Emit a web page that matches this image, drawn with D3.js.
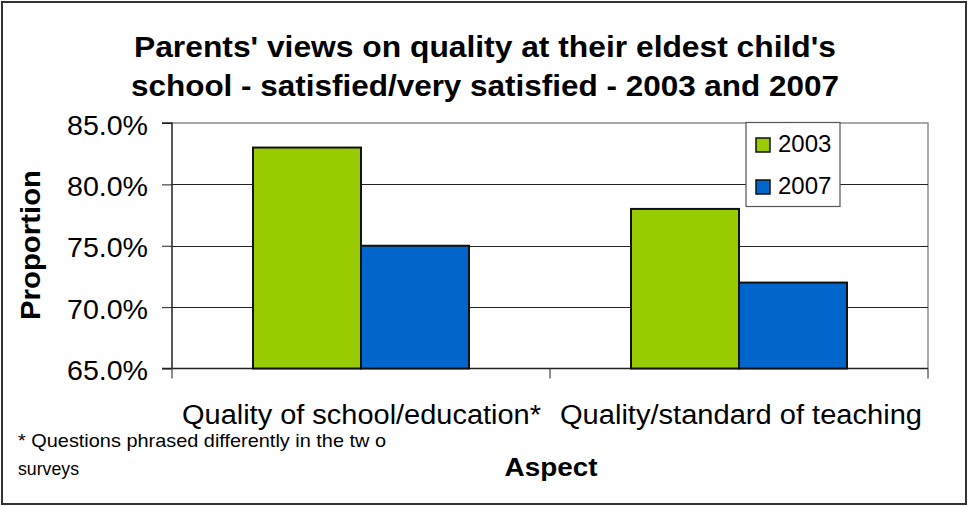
<!DOCTYPE html>
<html>
<head>
<meta charset="utf-8">
<script src="https://cdn.jsdelivr.net/npm/d3@7"></script>
<style>
  html, body { margin: 0; padding: 0; background: #fff; }
  svg { display: block; font-family: "Liberation Sans", Arial, sans-serif; }
</style>
</head>
<body>
<svg id="chart" width="968" height="506"></svg>
<script>
// ---- data ----
const categories = ["Quality of school/education*", "Quality/standard of teaching"];
const seriesNames = ["2003", "2007"];
const values2003 = [83.0, 78.0];
const values2007 = [75.0, 72.0];
const yTicks = [65, 70, 75, 80, 85];
const seriesColors = ["#99cc00", "#0066cc"];
const titleLines = ["Parents' views on quality at their eldest child's",
                    "school - satisfied/very satisfied - 2003 and 2007"];
const footnoteLines = ["* Questions phrased differently in the tw o", "surveys"];

const svg = d3.select("#chart");
const W = 968, H = 506;
const plot = { left: 172, right: 928, top: 123, bottom: 368.5 };

// outer border
svg.append("rect").attr("x", 2).attr("y", 2).attr("width", W - 4).attr("height", H - 4)
  .attr("fill", "#fff").attr("stroke", "#333").attr("stroke-width", 2);

// title
svg.selectAll("text.title").data(titleLines).join("text")
  .attr("class", "title")
  .attr("x", 485).attr("y", (d, i) => 57 + i * 39)
  .attr("text-anchor", "middle")
  .attr("font-size", 29).attr("font-weight", "bold")
  .attr("textLength", (d, i) => i === 0 ? 702 : 708)
  .attr("lengthAdjust", "spacingAndGlyphs")
  .text(d => d);

// scales
const x0 = d3.scaleBand().domain(categories).range([plot.left, plot.right]).paddingInner(0.4286).paddingOuter(0.2143);
const x1 = d3.scaleBand().domain(seriesNames).range([0, x0.bandwidth()]);
const y = d3.scaleLinear().domain([65, 85]).range([plot.bottom, plot.top]);

// plot border (top / right gray)
svg.append("path")
  .attr("d", `M${plot.left},${plot.top}H${plot.right}V${plot.bottom}`)
  .attr("fill", "none").attr("stroke", "#8c8c8c").attr("stroke-width", 1.5);

// gridlines
svg.append("g").selectAll("line").data(yTicks.filter(t => t > 65 && t < 85)).join("line")
  .attr("x1", plot.left).attr("x2", plot.right)
  .attr("y1", d => Math.round(y(d)) + 0.5).attr("y2", d => Math.round(y(d)) + 0.5)
  .attr("stroke", "#222").attr("stroke-width", 1);

// y axis
const yAxis = d3.axisLeft(y).tickValues(yTicks).tickSize(10).tickPadding(14)
  .tickFormat(d => d.toFixed(1) + "%");
const gy = svg.append("g").attr("transform", `translate(${plot.left},0)`).call(yAxis);
gy.select(".domain").attr("stroke", "#222").attr("stroke-width", 1.5).attr("d", `M-10,${plot.top}H0V${plot.bottom}`);
gy.selectAll(".tick line").attr("stroke", "#222");
gy.selectAll(".tick text").attr("font-size", 28).attr("fill", "#000")
  .attr("font-family", "Liberation Sans, Arial, sans-serif")
  .attr("textLength", 81).attr("lengthAdjust", "spacingAndGlyphs").attr("dy", "0.4em");

// x axis (ticks at category boundaries)
const boundaries = [plot.left, (plot.left + plot.right) / 2, plot.right];
svg.append("line").attr("x1", plot.left - 10).attr("x2", plot.right)
  .attr("y1", plot.bottom).attr("y2", plot.bottom)
  .attr("stroke", "#222").attr("stroke-width", 1.5);
svg.append("g").selectAll("line").data(boundaries).join("line")
  .attr("x1", d => d).attr("x2", d => d).attr("y1", plot.bottom).attr("y2", plot.bottom + 10)
  .attr("stroke", "#444").attr("stroke-width", 1.2);

// bars
const rows = categories.map((c, i) => ({ cat: c, vals: [values2003[i], values2007[i]] }));
const groups = svg.append("g").selectAll("g").data(rows).join("g")
  .attr("transform", d => `translate(${x0(d.cat)},0)`);
groups.selectAll("rect").data(d => d.vals.map((v, j) => ({ v, s: seriesNames[j], j }))).join("rect")
  .attr("x", d => x1(d.s)).attr("width", x1.bandwidth())
  .attr("y", d => y(d.v)).attr("height", d => y(65) - y(d.v))
  .attr("fill", d => seriesColors[d.j]).attr("stroke", "#111").attr("stroke-width", 2);

// category labels
svg.append("g").selectAll("text").data(categories).join("text")
  .attr("x", (d, i) => i === 0 ? 361.5 : 741)
  .attr("y", 424)
  .attr("text-anchor", "middle").attr("font-size", 27)
  .attr("textLength", (d, i) => i === 0 ? 359 : 362)
  .attr("lengthAdjust", "spacingAndGlyphs")
  .text(d => d);

// axis titles
svg.append("text").attr("transform", "translate(40,245) rotate(-90)")
  .attr("text-anchor", "middle").attr("font-size", 27).attr("font-weight", "bold")
  .attr("textLength", 150).attr("lengthAdjust", "spacingAndGlyphs")
  .text("Proportion");
svg.append("text").attr("x", 551).attr("y", 476)
  .attr("text-anchor", "middle").attr("font-size", 26).attr("font-weight", "bold")
  .attr("textLength", 93).attr("lengthAdjust", "spacingAndGlyphs")
  .text("Aspect");

// footnote
svg.append("g").selectAll("text").data(footnoteLines).join("text")
  .attr("x", 18).attr("y", (d, i) => 447 + i * 28)
  .attr("font-size", 19)
  .attr("textLength", (d, i) => i === 0 ? 368 : 61)
  .attr("lengthAdjust", "spacingAndGlyphs")
  .text(d => d);

// legend
const lg = svg.append("g");
lg.append("rect").attr("x", 746).attr("y", 122.5).attr("width", 94).attr("height", 84)
  .attr("fill", "#fff").attr("stroke", "#555").attr("stroke-width", 1.2);
const li = lg.selectAll("g").data(seriesNames).join("g")
  .attr("transform", (d, i) => `translate(756,${138 + i * 42})`);
li.append("rect").attr("width", 14).attr("height", 14)
  .attr("fill", (d, i) => seriesColors[i]).attr("stroke", "#111").attr("stroke-width", 1.5);
li.append("text").attr("x", 22).attr("y", 14).attr("font-size", 24).text(d => d);
</script>
</body>
</html>
